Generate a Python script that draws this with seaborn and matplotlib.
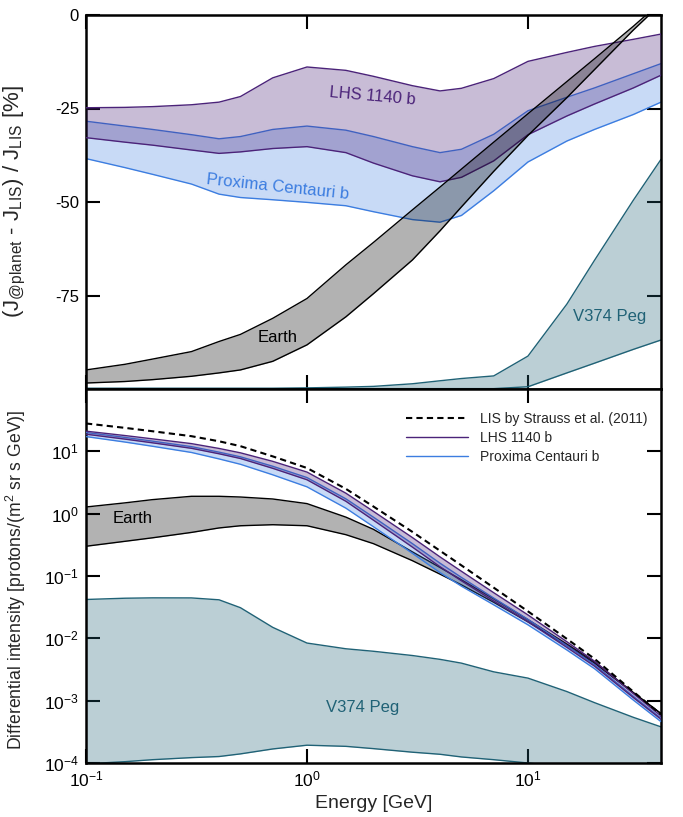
import matplotlib
matplotlib.use('Agg')
import matplotlib.pyplot as plt
import seaborn as sns
from matplotlib.ticker import NullLocator, FixedLocator
from matplotlib.lines import Line2D

# energy grid [GeV]
energy = [0.1, 0.15, 0.2, 0.3, 0.4, 0.5, 0.7, 1, 1.5, 2, 3, 4, 5, 7, 10, 15, 20, 30, 40]

# top panel: relative difference to LIS [%]
lhs_hi = [-24.8, -24.7, -24.5, -24.0, -23.3, -21.8, -16.8, -13.9, -14.8, -16.4, -18.9, -20.3, -19.6, -17.0, -12.4, -10.0, -8.4, -6.5, -5.1]
lhs_lo = [-32.8, -34.0, -34.8, -36.1, -37.0, -36.6, -35.7, -35.2, -36.8, -39.6, -43.0, -44.6, -43.4, -39.0, -32.0, -27.0, -23.8, -19.5, -16.1]
prox_hi = [-28.4, -29.7, -30.6, -32.0, -33.1, -32.5, -30.6, -29.7, -30.8, -32.5, -35.2, -36.8, -35.9, -31.9, -25.6, -22.0, -19.5, -15.7, -13.0]
prox_lo = [-38.4, -40.8, -42.6, -45.2, -47.9, -48.8, -49.4, -50.1, -51.0, -52.6, -54.7, -55.4, -53.6, -47.0, -39.3, -33.7, -30.6, -26.6, -23.3]
earth_hi = [-94.9, -93.4, -92.0, -90.0, -87.3, -85.4, -81.1, -75.8, -66.8, -60.8, -52.1, -46.0, -41.2, -34.0, -26.4, -17.8, -11.7, -3.0, 3.5]
earth_lo = [-98.4, -98.0, -97.5, -96.6, -95.7, -94.9, -92.6, -88.2, -80.7, -74.5, -65.5, -57.7, -51.3, -41.8, -32.2, -22.1, -14.6, -4.0, 3.0]
v374_hi = [-99.8, -99.8, -99.8, -99.8, -99.8, -99.8, -99.8, -99.7, -99.5, -99.3, -98.6, -97.8, -97.2, -96.5, -91.2, -77.3, -65.6, -49.5, -38.6]
v374_lo = [-99.9, -99.9, -99.9, -99.9, -99.9, -99.9, -99.9, -99.9, -99.9, -99.9, -99.9, -99.9, -99.9, -99.9, -99.4, -95.7, -93.1, -89.4, -86.9]

# bottom panel: differential intensity [protons/(m^2 sr s GeV)]
lis = [28.0, 23.8, 21.0, 17.5, 14.5, 12.1, 8.3, 5.4, 2.5, 1.3, 0.51, 0.254, 0.148, 0.065, 0.0271, 0.0098, 0.0047, 0.00139, 0.0006]
earth_int_hi = [1.28, 1.49, 1.68, 1.90, 1.90, 1.85, 1.72, 1.45, 0.88, 0.56, 0.244, 0.137, 0.087, 0.043, 0.0199, 0.0081, 0.0042, 0.00135, 0.00062]
earth_int_lo = [0.30, 0.36, 0.41, 0.50, 0.59, 0.64, 0.665, 0.64, 0.46, 0.33, 0.176, 0.107, 0.072, 0.0378, 0.0184, 0.0077, 0.0040, 0.00133, 0.00062]
v374_int_hi = [0.042, 0.044, 0.0446, 0.0445, 0.0415, 0.031, 0.015, 0.0084, 0.0068, 0.0062, 0.0053, 0.0046, 0.0040, 0.0029, 0.0023, 0.0014, 0.00093, 0.00054, 0.00038]
v374_int_lo = [9.7e-5, 1.05e-4, 1.13e-4, 1.22e-4, 1.27e-4, 1.4e-4, 1.68e-4, 1.93e-4, 1.85e-4, 1.7e-4, 1.49e-4, 1.38e-4, 1.25e-4, 1.13e-4, 1.0e-4, 8.5e-5, 7e-5, 5.5e-5, 4.5e-5]

c_lhs = '#4b2379'
c_prox = '#3c7de0'
c_earth = 'black'
c_v374 = '#206276'

sns.set_theme(style='ticks')
plt.rcParams['font.family'] = ['Liberation Sans', 'DejaVu Sans']
plt.rcParams['mathtext.fontset'] = 'custom'
plt.rcParams['mathtext.rm'] = 'Liberation Sans'
plt.rcParams['mathtext.it'] = 'Liberation Sans:italic'
plt.rcParams['mathtext.bf'] = 'Liberation Sans:bold'
plt.rcParams['axes.unicode_minus'] = False

fig = plt.figure(figsize=(6.83, 8.17), dpi=100)
ax1 = fig.add_axes([86 / 683, 1 - 389 / 817, 575 / 683, 374 / 817])
ax2 = fig.add_axes([86 / 683, 1 - 763 / 817, 575 / 683, 374 / 817])


def band(ax, lo, hi, color, z, label=None, alpha=0.3):
    ax.fill_between(energy, lo, hi, color=color, alpha=alpha, lw=0, zorder=z)
    sns.lineplot(x=energy, y=hi, ax=ax, color=color, lw=1, zorder=z + 0.1, label=label)
    sns.lineplot(x=energy, y=lo, ax=ax, color=color, lw=1, zorder=z + 0.1)


# top panel
band(ax1, v374_lo, v374_hi, c_v374, 1)
band(ax1, prox_lo, prox_hi, c_prox, 2, alpha=0.28)
band(ax1, lhs_lo, lhs_hi, c_lhs, 3)
band(ax1, earth_lo, earth_hi, c_earth, 4)

# bottom panel
lhs_int_hi = [l * (1 + p / 100) for l, p in zip(lis, lhs_hi)]
lhs_int_lo = [l * (1 + p / 100) for l, p in zip(lis, lhs_lo)]
prox_int_hi = [l * (1 + p / 100) for l, p in zip(lis, prox_hi)]
prox_int_lo = [l * (1 + p / 100) for l, p in zip(lis, prox_lo)]

band(ax2, v374_int_lo, v374_int_hi, c_v374, 1)
band(ax2, earth_int_lo, earth_int_hi, c_earth, 2)
band(ax2, prox_int_lo, prox_int_hi, c_prox, 3, alpha=0.28)
band(ax2, lhs_int_lo, lhs_int_hi, c_lhs, 4)
sns.lineplot(x=energy, y=lis, ax=ax2, color='black', lw=1.5, linestyle=(0, (3, 2)), zorder=6)

for ax in (ax1, ax2):
    ax.set_xscale('log')
    ax.set_xlim(0.1, 40)
    ax.xaxis.set_minor_locator(NullLocator())
    ax.tick_params(direction='in', length=10, width=1.5, top=True, right=True,
                   labelsize=12.5, colors='black', pad=5)
    ax.tick_params(which='minor', length=0)
    for s in ax.spines.values():
        s.set_linewidth(1.8)
        s.set_color('black')

ax1.set_ylim(-100, 0)
ax1.set_yticks([-75, -50, -25, 0])
ax1.tick_params(labelbottom=False, labelsize=12)
ax1.set_xlabel('')
ax1.set_ylabel(r'(J$_{\mathregular{@planet}}$ - J$_{\mathregular{LIS}}$) / J$_{\mathregular{LIS}}$ [%]', fontsize=16)
ax1.yaxis.set_label_coords(-0.1, 0.5)

ax2.set_yscale('log')
ax2.set_ylim(1e-4, 1e2)
ax2.yaxis.set_major_locator(FixedLocator([1e-4, 1e-3, 1e-2, 1e-1, 1e0, 1e1]))
ax2.yaxis.set_minor_locator(NullLocator())
ax2.set_xlabel('Energy [GeV]', fontsize=14)
ax2.set_ylabel(r'Differential intensity [protons/(m$^{\mathregular{2}}$ sr s GeV)]', fontsize=12.7)
ax2.yaxis.set_label_coords(-0.1, 0.49)

# band labels
ax1.text(1.98, -21.8, 'LHS 1140 b', color=c_lhs, fontsize=12, ha='center', va='center', rotation=-5)
ax1.text(0.74, -46, 'Proxima Centauri b', color=c_prox, fontsize=12, ha='center', va='center', rotation=-6)
ax1.text(0.74, -86.2, 'Earth', color='black', fontsize=12, ha='center', va='center')
ax1.text(23.5, -80.6, 'V374 Peg', color=c_v374, fontsize=12, ha='center', va='center')
ax2.text(0.162, 0.83, 'Earth', color='black', fontsize=12, ha='center', va='center')
ax2.text(1.78, 7.7e-4, 'V374 Peg', color=c_v374, fontsize=12, ha='center', va='center')

handles = [Line2D([], [], color='black', lw=1.5, linestyle=(0, (3, 2))),
           Line2D([], [], color=c_lhs, lw=1),
           Line2D([], [], color=c_prox, lw=1)]
ax2.legend(handles, ['LIS by Strauss et al. (2011)', 'LHS 1140 b', 'Proxima Centauri b'],
           loc='upper right', bbox_to_anchor=(1.0, 0.976), frameon=False, fontsize=10,
           handlelength=4.5, borderaxespad=0.6, labelspacing=0.35)

fig.savefig('out.png', dpi=100)
